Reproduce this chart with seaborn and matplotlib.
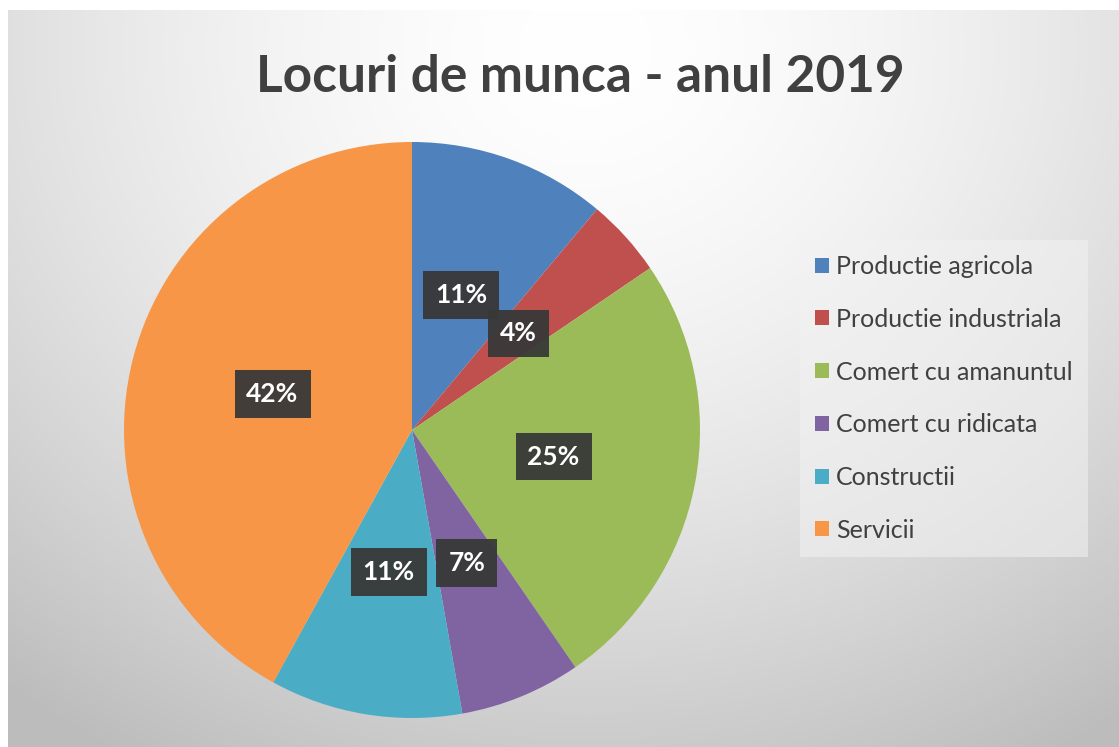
import numpy as np
import matplotlib
matplotlib.use("Agg")
import matplotlib.pyplot as plt
import seaborn as sns

categories = ["Productie agricola", "Productie industriala", "Comert cu amanuntul",
              "Comert cu ridicata", "Constructii", "Servicii"]
values = [11.1, 4.4, 24.9, 6.8, 10.8, 42.0]
colors = ["#4F81BD", "#C0504D", "#9BBB59", "#8064A2", "#4BACC6", "#F79646"]
title = "Locuri de munca - anul 2019"

sns.set_theme(style="white")
plt.rcParams['font.family'] = ['Lato', 'DejaVu Sans']
palette = sns.color_palette(colors)

W, H = 1119, 747
fig = plt.figure(figsize=(W / 100, H / 100), dpi=100)
fig.patch.set_facecolor("white")

# background gradient panel
bg = fig.add_axes([8 / W, 0, 1 - 8 / W, 1 - 10 / H])
bg.set_axis_off()
yy, xx = np.mgrid[0:1:300j, 0:1:450j]
d = np.sqrt(((xx - 0.52) / 0.75) ** 2 + ((yy - 0.05) / 1.0) ** 2)
shade = 1.0 - 0.22 * np.clip(d, 0, 1.3) ** 1.6
shade = np.clip(shade, 0.74, 1.0)
img = np.dstack([shade, shade, shade])
bg.imshow(img, aspect="auto", extent=[0, 1, 0, 1], origin="upper")
bg.set_xlim(0, 1)
bg.set_ylim(0, 1)

# pie axes
cx, cy, r = 412, 430, 288
ax = fig.add_axes([(cx - r) / W, (H - cy - r) / H, 2 * r / W, 2 * r / H])
ax.set_facecolor("none")
wedges, texts, autotexts = ax.pie(
    values, colors=palette, startangle=90, counterclock=False,
    autopct="%.0f%%", pctdistance=0.5,
    wedgeprops=dict(linewidth=0),
    textprops=dict(color="white", fontsize=19, fontweight="bold"))
for t in autotexts:
    t.set_bbox(dict(boxstyle="square,pad=0.45", facecolor="#383838",
                    edgecolor="none", alpha=0.95))
ax.set_xlim(-1, 1)
ax.set_ylim(-1, 1)
ax.set_aspect("equal")

fig.text(580 / W, 1 - 78 / H, title, ha="center", va="center",
         fontsize=37, fontweight="bold", color="#404040")

leg = fig.legend(wedges, categories, loc="upper left",
                 bbox_to_anchor=(800 / W, 1 - 240 / H), borderaxespad=0,
                 fontsize=18, handlelength=0.55, handleheight=0.55,
                 handletextpad=0.3, labelspacing=1.19, borderpad=0.6,
                 frameon=True, fancybox=False)
fr = leg.get_frame()
fr.set_facecolor("#f2f2f2")
fr.set_alpha(0.55)
fr.set_edgecolor("none")
for t in leg.get_texts():
    t.set_color("#404040")

fig.savefig("out.png", dpi=100)
